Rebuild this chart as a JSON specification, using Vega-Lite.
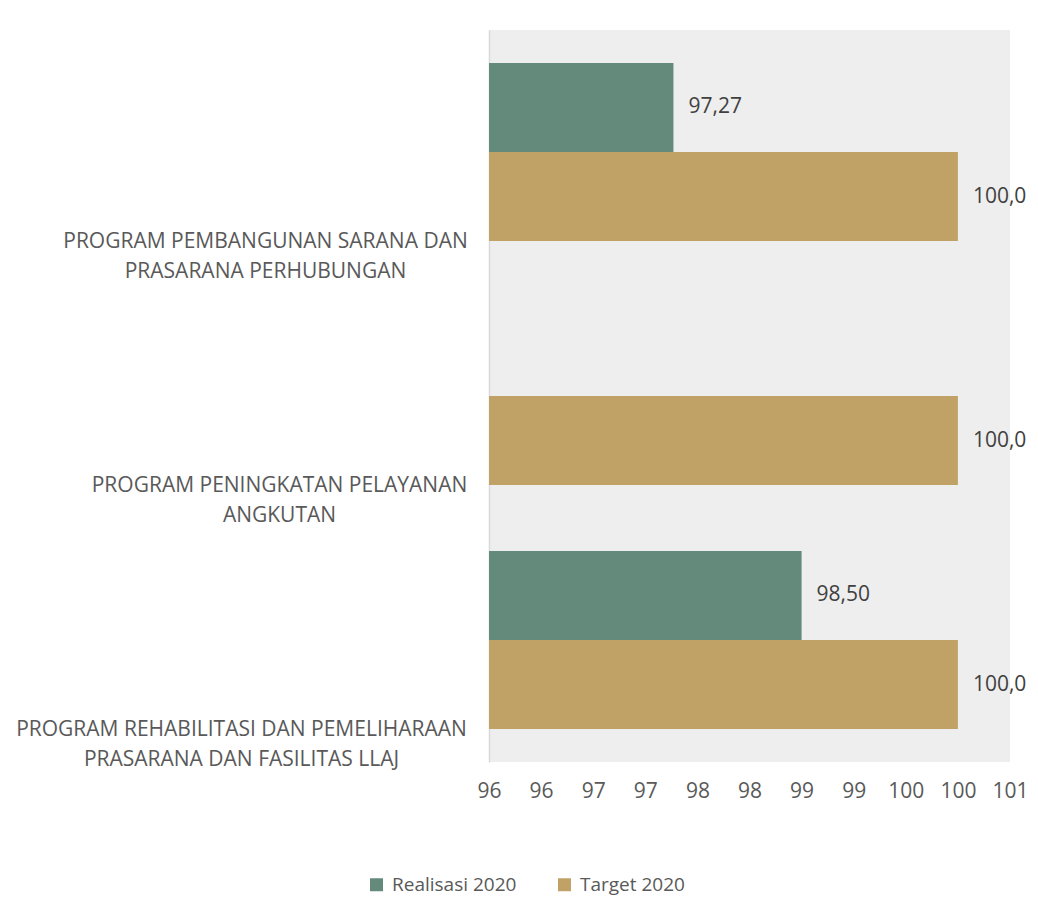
{
  "$schema": "https://vega.github.io/schema/vega-lite/v6.json",
  "width": 521,
  "height": 732,
  "autosize": {"type": "none"},
  "padding": {"left": 489, "top": 30, "right": 28, "bottom": 155},
  "background": "white",
  "config": {
    "font": "Open Sans",
    "view": {"fill": "#eeeeee", "stroke": null}
  },
  "data": {
    "values": [
      {"program": "PROGRAM PEMBANGUNAN SARANA DAN\nPRASARANA PERHUBUNGAN", "series": "Realisasi 2020", "value": 97.27, "label": "97,27"},
      {"program": "PROGRAM PEMBANGUNAN SARANA DAN\nPRASARANA PERHUBUNGAN", "series": "Target 2020", "value": 100, "label": "100,0"},
      {"program": "PROGRAM PENINGKATAN PELAYANAN\nANGKUTAN", "series": "Target 2020", "value": 100, "label": "100,0"},
      {"program": "PROGRAM REHABILITASI DAN PEMELIHARAAN\nPRASARANA DAN  FASILITAS LLAJ", "series": "Realisasi 2020", "value": 98.5, "label": "98,50"},
      {"program": "PROGRAM REHABILITASI DAN PEMELIHARAAN\nPRASARANA DAN  FASILITAS LLAJ", "series": "Target 2020", "value": 100, "label": "100,0"}
    ]
  },
  "encoding": {
    "y": {
      "field": "program",
      "type": "nominal",
      "sort": null,
      "scale": {"paddingInner": 0.27, "paddingOuter": 0.135},
      "axis": {
        "title": null,
        "ticks": false,
        "tickSize": 0,
        "domain": true,
        "domainColor": "#d9d9d9",
        "domainWidth": 1.5,
        "labelExpr": "split(datum.label, '\\n')",
        "labelFontSize": 21,
        "labelColor": "#595959",
        "labelLineHeight": 30,
        "labelAlign": "center",
        "labelOffset": 90,
        "labelLimit": 600,
        "labelPadding": {
          "condition": [
            {"test": "indexof(datum.value, 'PEMBANGUNAN') >= 0", "value": 224},
            {"test": "indexof(datum.value, 'PENINGKATAN') >= 0", "value": 210}
          ],
          "value": 248
        }
      }
    },
    "yOffset": {
      "field": "series",
      "type": "nominal",
      "scale": {"domain": ["Realisasi 2020", "Target 2020"], "paddingInner": 0, "paddingOuter": 0}
    },
    "x": {
      "field": "value",
      "type": "quantitative",
      "scale": {"domain": [95.5, 100.5], "zero": false, "nice": false},
      "axis": {
        "title": null,
        "values": [95.5, 96, 96.5, 97, 97.5, 98, 98.5, 99, 99.5, 100, 100.5],
        "format": ".0f",
        "grid": false,
        "ticks": false,
        "domain": false,
        "labelOverlap": false,
        "labelFlush": false,
        "labelFontSize": 21,
        "labelColor": "#595959",
        "labelPadding": 18
      }
    }
  },
  "layer": [
    {
      "mark": {"type": "bar", "clip": true},
      "encoding": {
        "color": {
          "field": "series",
          "type": "nominal",
          "scale": {"domain": ["Realisasi 2020", "Target 2020"], "range": ["#648a7c", "#c1a266"]},
          "legend": {
            "title": null,
            "orient": "none",
            "direction": "horizontal",
            "legendX": -122,
            "legendY": 845,
            "symbolType": "square",
            "symbolSize": 169,
            "symbolStrokeWidth": 0,
            "labelFontSize": 19,
            "labelColor": "#595959",
            "labelOffset": 6,
            "columnPadding": 38
          }
        }
      }
    },
    {
      "mark": {"type": "text", "align": "left", "baseline": "middle", "dx": 15, "fontSize": 21, "color": "#404040"},
      "encoding": {"text": {"field": "label"}}
    }
  ]
}
